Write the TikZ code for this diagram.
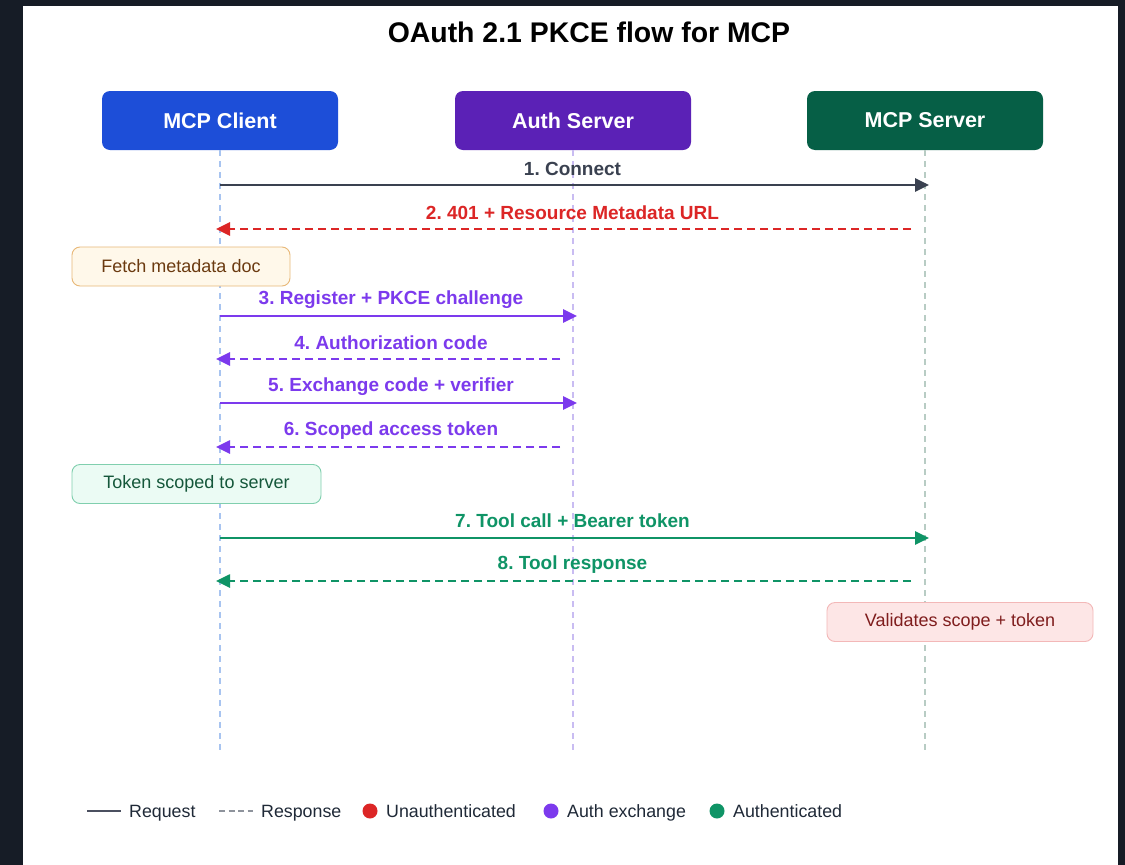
\documentclass[tikz,border=0pt]{standalone}
\usepackage{fontspec}
\setmainfont{Liberation Sans}
\usetikzlibrary{arrows.meta}
\definecolor{bgdark}{HTML}{161C26}
\definecolor{clientblue}{HTML}{1D4ED8}
\definecolor{authpurple}{HTML}{5B21B6}
\definecolor{servergreen}{HTML}{065F46}
\definecolor{lifeblue}{HTML}{A8C4F0}
\definecolor{lifepurple}{HTML}{C9BCF2}
\definecolor{lifegreen}{HTML}{B8CCC4}
\definecolor{msgdark}{HTML}{3A4150}
\definecolor{msgred}{HTML}{DC2626}
\definecolor{msgpurple}{HTML}{7C3AED}
\definecolor{msggreen}{HTML}{0F9466}
\definecolor{fetchfill}{HTML}{FFF8EA}
\definecolor{fetchdraw}{HTML}{E8B878}
\definecolor{fetchtext}{HTML}{6B3A10}
\definecolor{tokfill}{HTML}{EBFBF4}
\definecolor{tokdraw}{HTML}{80CFAE}
\definecolor{toktext}{HTML}{14573A}
\definecolor{valfill}{HTML}{FDE6E6}
\definecolor{valdraw}{HTML}{F3B8B8}
\definecolor{valtext}{HTML}{7F1D1D}
\definecolor{legtext}{HTML}{1F2937}
\definecolor{leggray}{HTML}{4B5060}
\definecolor{leglight}{HTML}{8E939C}
\begin{document}
\frenchspacing
\begin{tikzpicture}[x=1pt,y=-1pt,
  hdr/.style={rounded corners=8pt, minimum width=236pt, minimum height=59pt, text=white, font=\bfseries\fontsize{21.5}{24}\selectfont, inner sep=0pt},
  life/.style={line width=1.1pt, dash pattern=on 6pt off 5pt},
  req/.style={line width=2.6pt, -{Triangle[length=14pt,width=13pt]}},
  resp/.style={line width=2.6pt, dash pattern=on 8pt off 5pt, -{Triangle[length=14pt,width=13pt]}},
  lbl/.style={font=\bfseries\fontsize{19}{22}\selectfont, inner sep=0pt},
  note/.style={rounded corners=8pt, line width=0.9pt, minimum height=39pt, font=\fontsize{18}{21}\selectfont, inner sep=0pt},
  legtxt/.style={font=\fontsize{17.8}{20}\selectfont, text=legtext, anchor=base west, inner sep=0pt},
  dot/.style={circle, minimum size=15pt, inner sep=0pt}
]
\fill[bgdark] (0,0) rectangle (1125,865);
\fill[white] (23,6) rectangle (1118,865);
\useasboundingbox (0,0) rectangle (1125,865);

\node[font=\bfseries\fontsize{28.4}{32}\selectfont, text=black] (title) at (589,32) {OAuth 2.1 PKCE flow for MCP};

\node[hdr, fill=clientblue] (client) at (220,120.5) {MCP Client};
\node[hdr, fill=authpurple] (auth) at (573,120.5) {Auth Server};
\node[hdr, fill=servergreen] (server) at (925,120.5) {MCP Server};

\coordinate (clientend) at (220,750);
\coordinate (authend) at (573,750);
\coordinate (serverend) at (925,750);
\draw[life, lifeblue] (client.south) -- (clientend);
\draw[life, lifepurple] (auth.south) -- (authend);
\draw[life, lifegreen] (server.south) -- (serverend);

% 1
\coordinate (m1a) at (220,185); \coordinate (m1b) at (929,185);
\draw[req, msgdark] (m1a) -- (m1b);
\node[lbl, text=msgdark] (l1) at (572.5,169) {1. Connect};
% 2
\coordinate (m2a) at (911,229); \coordinate (m2b) at (216,229);
\draw[resp, msgred] (m2a) -- (m2b);
\node[lbl, text=msgred] (l2) at (572.5,213) {2. 401 + Resource Metadata URL};

\node[note, fill=fetchfill, draw=fetchdraw, text=fetchtext, minimum width=218pt] (fetch) at (181,266.5) {Fetch metadata doc};

% 3
\coordinate (m3a) at (220,316); \coordinate (m3b) at (577,316);
\draw[req, msgpurple] (m3a) -- (m3b);
\node[lbl, text=msgpurple] (l3) at (391,300) {3. Register + PKCE challenge};
% 4
\coordinate (m4a) at (560,359); \coordinate (m4b) at (216,359);
\draw[resp, msgpurple] (m4a) -- (m4b);
\node[lbl, text=msgpurple] (l4) at (391,343) {4. Authorization code};
% 5
\coordinate (m5a) at (220,403); \coordinate (m5b) at (577,403);
\draw[req, msgpurple] (m5a) -- (m5b);
\node[lbl, text=msgpurple] (l5) at (391,387) {5. Exchange code + verifier};
% 6
\coordinate (m6a) at (560,447); \coordinate (m6b) at (216,447);
\draw[resp, msgpurple] (m6a) -- (m6b);
\node[lbl, text=msgpurple] (l6) at (391,431) {6. Scoped access token};

\node[note, fill=tokfill, draw=tokdraw, text=toktext, minimum width=249pt] (token) at (196.5,484) {Token scoped to server};

% 7
\coordinate (m7a) at (220,538); \coordinate (m7b) at (929,538);
\draw[req, msggreen] (m7a) -- (m7b);
\node[lbl, text=msggreen] (l7) at (572.5,521) {7. Tool call + Bearer token};
% 8
\coordinate (m8a) at (911,581); \coordinate (m8b) at (216,581);
\draw[resp, msggreen] (m8a) -- (m8b);
\node[lbl, text=msggreen] (l8) at (572.5,565) {8. Tool response};

\node[note, fill=valfill, draw=valdraw, text=valtext, minimum width=266pt] (validate) at (960,622) {Validates scope + token};

% legend
\coordinate (lg1a) at (87,811); \coordinate (lg1b) at (121,811);
\draw[line width=2.2pt, leggray] (lg1a) -- (lg1b);
\node[legtxt] (lreq) at (129,817.5) {Request};
\coordinate (lg2a) at (219,811); \coordinate (lg2b) at (253,811);
\draw[line width=2.2pt, leglight, dash pattern=on 6pt off 3.5pt] (lg2a) -- (lg2b);
\node[legtxt] (lresp) at (261,817.5) {Response};
\node[dot, fill=msgred] (dred) at (370,811) {};
\node[legtxt] (lunauth) at (386,817.5) {Unauthenticated};
\node[dot, fill=msgpurple] (dpurple) at (551,811) {};
\node[legtxt] (lauthx) at (567,817.5) {Auth exchange};
\node[dot, fill=msggreen] (dgreen) at (717,811) {};
\node[legtxt] (lauthd) at (733,817.5) {Authenticated};
\end{tikzpicture}
\end{document}
